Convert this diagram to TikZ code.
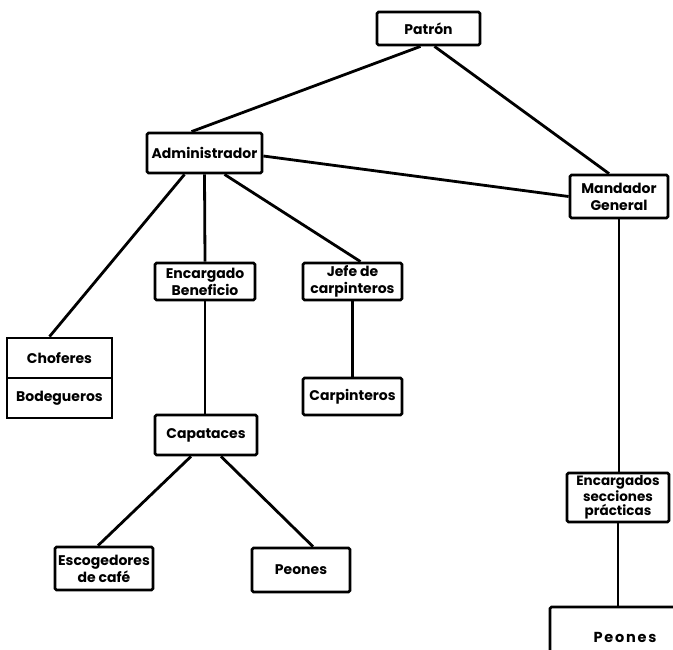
\documentclass[tikz,border=0pt]{standalone}
\usepackage{fontspec}
\setmainfont{Poppins}
\begin{document}
\begin{tikzpicture}[x=1pt,y=-1pt,
 box/.style={draw, line width=2.8pt, rounded corners=1.5pt, inner sep=0pt, align=center,
   font=\bfseries\fontsize{14}{17}\selectfont},
 link/.style={line width=2.8pt}]
\clip (0,0) rectangle (673,649);
\fill[white] (0,0) rectangle (673,649);
\node[box, minimum width=103, minimum height=33] (patron) at (428.5,28.5) {Patrón};
\node[box, minimum width=115, minimum height=40] (adm) at (204.5,153) {Administrador};
\node[box, minimum width=98, minimum height=43] (mand) at (619,196.5) {Mandador\\General};
\node[box, rounded corners=0pt, minimum width=105, minimum height=40] (chof) at (59.5,358) {Choferes};
\node[box, rounded corners=0pt, minimum width=105, minimum height=40] (bod) at (59.5,398) {Bodegueros};
\node[box, minimum width=100, minimum height=37] (encb) at (205,281.5) {Encargado\\Beneficio};
\node[box, minimum width=99, minimum height=37] (jefe) at (352.5,281.5) {Jefe de\\carpinteros};
\node[box, minimum width=99, minimum height=37] (carp) at (352.5,396.5) {Carpinteros};
\node[box, minimum width=102, minimum height=40] (capa) at (206,435) {Capataces};
\node[box, minimum width=98, minimum height=43] (esco) at (104,568.5) {Escogedores\\de café};
\node[box, minimum width=98, minimum height=44] (peon1) at (301,570) {Peones};
\node[box, minimum width=102, minimum height=49, font=\bfseries\fontsize{13.5}{14}\selectfont] (encs) at (618,497.5) {Encargados\\secciones\\prácticas};
\node[box, minimum width=150, minimum height=60, font=\bfseries\fontsize{14.5}{17}\selectfont] (peon2) at (625,637) {\addfontfeature{LetterSpace=12}Peones};
\draw[link] ([xshift=-8]patron.south) -- ([xshift=-13]adm.north);
\draw[link] ([xshift=6]patron.south) -- ([xshift=-10]mand.north);
\draw[link] ([yshift=-3]adm.east) -- (mand.west);
\draw[link] ([xshift=-20]adm.south) -- ([xshift=-10]chof.north);
\draw[link] (adm.south) -- (encb.north);
\draw[link] ([xshift=20]adm.south) -- ([xshift=8]jefe.north);
\draw[link] (encb.south) -- (encb.south |- capa.north);
\draw[link] (jefe.south) -- (carp.north);
\draw[link] ([xshift=-15]capa.south) -- ([xshift=-6]esco.north);
\draw[link] ([xshift=15]capa.south) -- ([xshift=12]peon1.north);
\draw[link] (mand.south) -- (mand.south |- encs.north);
\draw[link] (encs.south) -- (encs.south |- peon2.north);
\end{tikzpicture}
\end{document}
